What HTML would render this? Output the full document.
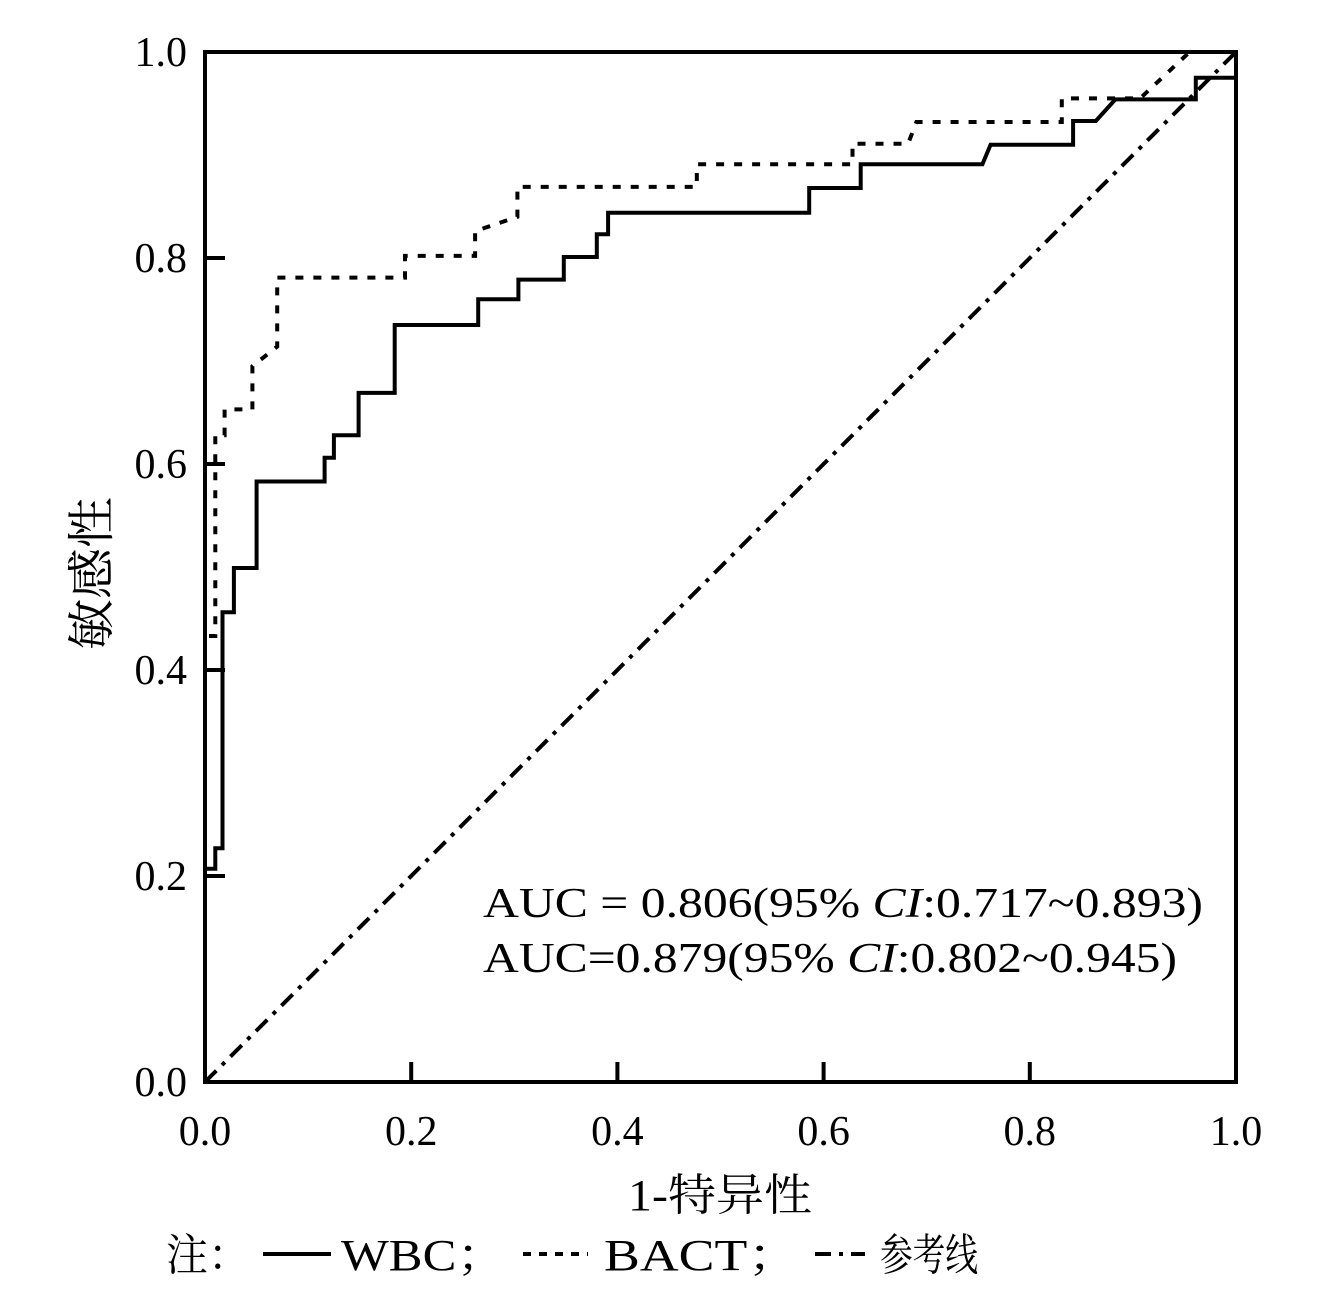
<!DOCTYPE html>
<html><head><meta charset="utf-8"><style>
html,body{margin:0;padding:0;background:#fff;}
svg{display:block;}
text{font-family:"Liberation Serif","Noto Serif CJK SC",serif;fill:#000;}
</style></head><body>
<svg id="chart" width="1328" height="1301" viewBox="0 0 1328 1301" xmlns="http://www.w3.org/2000/svg">
<g id="plot"></g>
<g id="axes"></g>
<text x="483" y="917" font-size="42" textLength="720" lengthAdjust="spacingAndGlyphs">AUC = 0.806(95% <tspan font-style="italic">CI</tspan>:0.717~0.893)</text>
<text x="483" y="972" font-size="42" textLength="694" lengthAdjust="spacingAndGlyphs">AUC=0.879(95% <tspan font-style="italic">CI</tspan>:0.802~0.945)</text>
<text x="628" y="1210" font-size="44" textLength="184" lengthAdjust="spacingAndGlyphs">1-特异性</text>
<text transform="translate(108,650) rotate(-90)" font-size="48" textLength="153" lengthAdjust="spacingAndGlyphs">敏感性</text>
<g>
<text x="166" y="1270" font-size="44" textLength="84" lengthAdjust="spacingAndGlyphs">注：</text>
<line x1="263" y1="1254" x2="331" y2="1254" stroke="#000" stroke-width="4"/>
<text x="341" y="1270" font-size="44" textLength="166" lengthAdjust="spacingAndGlyphs">WBC；</text>
<line x1="523" y1="1254" x2="588" y2="1254" stroke="#000" stroke-width="4" stroke-dasharray="8 8"/>
<text x="604" y="1270" font-size="44" textLength="197" lengthAdjust="spacingAndGlyphs">BACT；</text>
<line x1="815" y1="1254" x2="865" y2="1254" stroke="#000" stroke-width="4" stroke-dasharray="16 8 4 8"/>
<text x="880" y="1270" font-size="44" textLength="98" lengthAdjust="spacingAndGlyphs">参考线</text>
</g>
</svg>
<script>
const wbcFpr=[0,0,.010,.010,.017,.017,.028,.028,.050,.050,.116,.116,.125,.125,.149,.149,.184,.184,.265,.265,.304,.304,.348,.348,.380,.380,.391,.391,.586,.586,.636,.636,.754,.762,.842,.842,.864,.883,.961,.961,1.0];
const wbcTpr=[0,.207,.207,.227,.227,.456,.456,.499,.499,.583,.583,.606,.606,.628,.628,.669,.669,.735,.735,.760,.760,.779,.779,.801,.801,.823,.823,.844,.844,.868,.868,.891,.891,.910,.910,.933,.933,.954,.954,.975,.975];
const bactFpr=[0,0,.010,.010,.019,.019,.046,.046,.070,.070,.194,.194,.262,.262,.303,.303,.477,.477,.628,.628,.682,.690,.831,.831,.907,.955,1.0];
const bactTpr=[0,.433,.433,.628,.628,.653,.653,.695,.714,.781,.781,.802,.802,.826,.840,.869,.869,.891,.891,.911,.911,.932,.932,.955,.955,1.0,1.0];
const refX=[0,1];
const refY=[0,1];
const ticks=[0,0.2,0.4,0.6,0.8,1.0];
const tickLabels=["0.0","0.2","0.4","0.6","0.8","1.0"];

const X0=205,X1=1236,Y0=1082,Y1=52;
const sx=v=>X0+v*(X1-X0);
const sy=v=>Y0-v*(Y0-Y1);
const NS="http://www.w3.org/2000/svg";
const plot=document.getElementById('plot');
const axes=document.getElementById('axes');
function path(xs,ys,dash,name){
  const p=document.createElementNS(NS,'path');
  p.setAttribute('d',xs.map((x,i)=>(i?'L':'M')+sx(x).toFixed(1)+' '+sy(ys[i]).toFixed(1)).join(' '));
  p.setAttribute('fill','none');p.setAttribute('stroke','#000');p.setAttribute('stroke-width','4');
  if(dash)p.setAttribute('stroke-dasharray',dash);
  
  
  plot.appendChild(p);
}
path(refX,refY,'16 8 4 8','reference-line');
path(bactFpr,bactTpr,'8 10','bact-curve');
path(wbcFpr,wbcTpr,null,'wbc-curve');
const frame=document.createElementNS(NS,'rect');
frame.setAttribute('x',X0);frame.setAttribute('y',Y1);frame.setAttribute('width',X1-X0);frame.setAttribute('height',Y0-Y1);
frame.setAttribute('fill','none');frame.setAttribute('stroke','#000');frame.setAttribute('stroke-width','4');


axes.appendChild(frame);
ticks.forEach((t,i)=>{
  const ty=document.createElementNS(NS,'line');
  ty.setAttribute('x1',X0);ty.setAttribute('x2',X0+20);ty.setAttribute('y1',sy(t));ty.setAttribute('y2',sy(t));
  ty.setAttribute('stroke','#000');ty.setAttribute('stroke-width','4');
  
  
  axes.appendChild(ty);
  const tx=document.createElementNS(NS,'line');
  tx.setAttribute('y1',Y0);tx.setAttribute('y2',Y0-20);tx.setAttribute('x1',sx(t));tx.setAttribute('x2',sx(t));
  tx.setAttribute('stroke','#000');tx.setAttribute('stroke-width','4');
  
  
  axes.appendChild(tx);
  const ly=document.createElementNS(NS,'text');
  ly.setAttribute('x',187);ly.setAttribute('y',sy(t)+14);ly.setAttribute('font-size','42');ly.setAttribute('text-anchor','end');
  ly.textContent=tickLabels[i];
  
  
  axes.appendChild(ly);
  const lx=document.createElementNS(NS,'text');
  lx.setAttribute('x',sx(t));lx.setAttribute('y',1145);lx.setAttribute('font-size','42');lx.setAttribute('text-anchor','middle');
  lx.textContent=tickLabels[i];
  
  
  axes.appendChild(lx);
});
</script>
</body></html>
